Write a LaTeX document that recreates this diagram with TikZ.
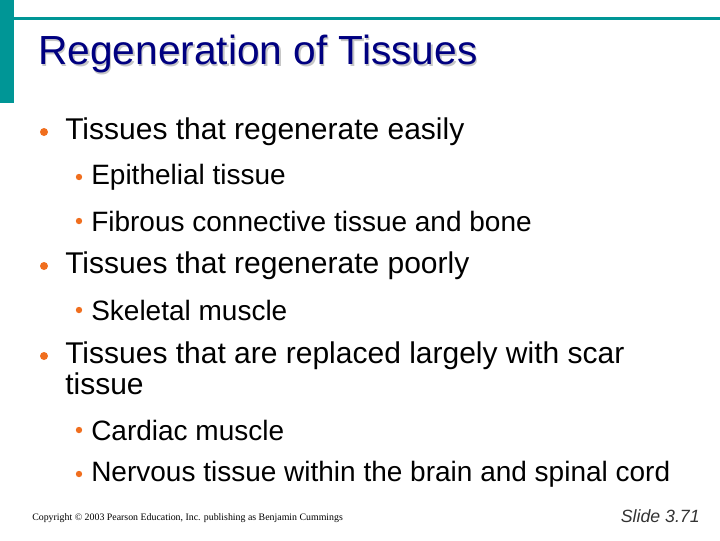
\documentclass[tikz,border=0pt]{standalone}
\usepackage{fontspec}
\setmainfont{Liberation Sans}
\newfontfamily\tms{Liberation Serif}
\definecolor{teal1}{RGB}{0,150,150}
\definecolor{navy1}{RGB}{0,0,128}
\definecolor{orng}{RGB}{240,110,30}
\begin{document}
\begin{tikzpicture}[x=0.75pt,y=-0.75pt,
  lone/.style={anchor=west,inner sep=0,font=\fontsize{22.5}{24}\selectfont},
  ltwo/.style={anchor=west,inner sep=0,font=\fontsize{21}{23}\selectfont},
  bone/.style={fill=orng,draw=none},
]
\useasboundingbox (0,0) rectangle (720,540);
\fill[teal1] (0,0) rectangle (14,103);
\fill[teal1] (14,17) rectangle (720,20);
\node[anchor=west,inner sep=0,text=gray!45,font=\fontsize{30.5}{33}\selectfont] at (39.5,55.5) {Regeneration of Tissues};
\node (title)[anchor=west,inner sep=0,text=navy1,font=\fontsize{30.5}{33}\selectfont] at (38,54) {Regeneration of Tissues};
\fill[bone] (44,132) circle (4);
\node (a)[lone] at (65,132) {Tissues that regenerate easily};
\fill[bone] (79,177) circle (3.2);
\node (a1)[ltwo] at (91,177) {Epithelial tissue};
\fill[bone] (79,221) circle (3.2);
\node (a2)[ltwo] at (91,221) {Fibrous connective tissue and bone};
\fill[bone] (44,266) circle (4);
\node (b)[lone] at (65,266) {Tissues that regenerate poorly};
\fill[bone] (79,310) circle (3.2);
\node (b1)[ltwo] at (91,310) {Skeletal muscle};
\fill[bone] (44,356) circle (4);
\node (c)[lone] at (65,356) {Tissues that are replaced largely with scar};
\node (c0)[lone] at (65,384) {tissue};
\fill[bone] (79,430) circle (3.2);
\node (c1)[ltwo] at (91,430) {Cardiac muscle};
\fill[bone] (79,474) circle (3.2);
\node (c2)[ltwo] at (91,474) {Nervous tissue within the brain and spinal cord};
\node (copy)[anchor=west,inner sep=0,font=\tms\fontsize{7.4}{8}\selectfont] at (32,518) {Copyright © 2003 Pearson Education, Inc. publishing as Benjamin Cummings};
\node (slide)[anchor=east,inner sep=0,text=black!80,font=\itshape\fontsize{13.3}{15}\selectfont] at (700,516) {Slide 3.71};
\end{tikzpicture}
\end{document}
